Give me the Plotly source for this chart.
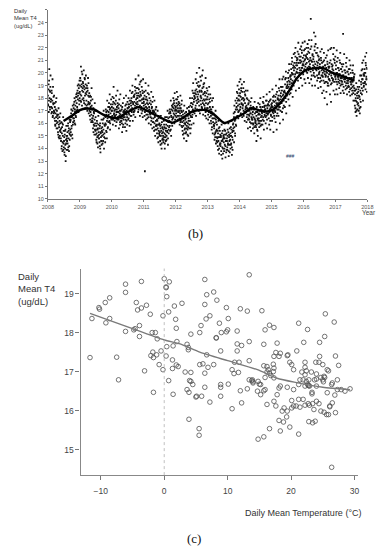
import plotly.graph_objects as go
import pandas as pd

# ---------------- Panel (b): daily mean T4, 2008-2017 ----------------
t4_daily = [
    18.2, 17.4, 19.1, 17.8, 20.3, 18.6, 17.1, 18.9, 17.7,
    17.9, 16.8, 18.4, 17.2, 19.5, 16.6, 17.6, 18.1, 17.0,
    16.9, 17.6, 16.2, 15.8, 17.1, 16.5, 18.0, 16.0, 16.7,
    15.6, 16.4, 15.1, 17.2, 15.9, 14.8, 16.2, 15.4, 16.8,
    15.3, 14.6, 16.1, 14.2, 15.7, 13.8, 15.0, 16.5, 14.4,
    14.1, 14.9, 13.5, 15.4, 14.3, 13.0, 14.7, 15.8, 13.9,
    14.6, 15.3, 13.9, 16.0, 14.8, 15.6, 14.2, 16.3, 15.1,
    15.5, 16.3, 15.0, 17.1, 15.8, 16.6, 14.8, 17.4, 16.1,
    16.7, 17.5, 16.2, 18.0, 17.1, 15.9, 17.8, 16.5, 18.3,
    17.6, 18.4, 17.1, 19.0, 18.2, 16.9, 18.8, 17.8, 19.4,
    18.5, 19.6, 17.8, 20.5, 18.2, 19.1, 17.4, 19.9, 18.8,
    19.2, 18.0, 20.2, 17.6, 18.7, 19.5, 17.2, 18.4, 19.8,
    18.3, 17.4, 19.0, 17.0, 18.6, 19.6, 17.7, 16.8, 18.1,
    17.5, 16.6, 18.2, 16.9, 17.8, 16.1, 18.8, 17.1, 16.4,
    16.4, 15.6, 17.2, 15.9, 16.8, 15.1, 17.6, 16.0, 15.4,
    15.1, 15.8, 14.5, 16.2, 14.9, 15.5, 14.1, 16.6, 15.3,
    14.8, 15.6, 14.2, 16.0, 13.7, 15.2, 14.6, 16.3, 15.4,
    15.7, 14.4, 16.3, 15.1, 17.0, 14.0, 15.9, 16.6, 14.8,
    16.0, 17.1, 15.4, 16.7, 14.8, 17.8, 16.4, 15.7, 17.3,
    16.9, 17.6, 16.1, 18.3, 15.5, 17.2, 16.5, 17.9, 16.3,
    17.3, 16.4, 18.1, 15.9, 17.7, 18.9, 16.7, 17.0, 16.2,
    16.6, 17.5, 15.8, 18.2, 16.9, 17.1, 16.3, 18.6, 17.4,
    16.5, 17.2, 15.6, 17.9, 16.8, 16.1, 18.3, 17.0, 16.4,
    16.2, 17.1, 15.3, 16.7, 17.6, 15.9, 16.5, 18.0, 16.9,
    16.8, 15.7, 17.4, 16.3, 18.2, 15.4, 17.0, 16.5, 17.7,
    17.2, 16.3, 18.0, 16.8, 17.5, 15.8, 18.6, 17.0, 16.6,
    17.8, 16.6, 18.4, 17.2, 19.0, 16.2, 17.5, 18.1, 16.9,
    18.1, 17.0, 18.9, 16.5, 19.5, 17.6, 18.4, 17.3, 18.0,
    17.7, 18.8, 16.9, 19.8, 18.2, 17.3, 19.1, 16.6, 18.5,
    18.3, 17.1, 19.4, 16.8, 17.9, 18.6, 16.5, 19.5, 17.6,
    17.4, 18.5, 16.6, 12.2, 17.9, 19.2, 16.3, 18.1, 17.0,
    17.6, 16.4, 18.4, 17.0, 19.0, 16.0, 17.3, 18.0, 16.8,
    16.7, 17.8, 15.9, 18.5, 16.4, 17.3, 15.6, 17.0, 18.1,
    16.1, 17.0, 15.4, 17.8, 16.5, 15.0, 16.8, 15.8, 17.3,
    15.5, 16.3, 14.8, 17.0, 15.9, 14.5, 16.6, 15.2, 16.0,
    15.0, 15.8, 14.3, 16.6, 15.4, 14.0, 16.1, 14.7, 15.6,
    15.3, 14.5, 16.2, 14.9, 15.7, 14.0, 16.5, 15.1, 14.6,
    15.9, 14.7, 16.5, 15.3, 17.0, 14.3, 16.1, 15.5, 16.8,
    16.2, 17.1, 15.4, 16.8, 17.8, 15.0, 16.5, 17.4, 15.8,
    17.3, 16.4, 18.0, 16.8, 17.6, 16.0, 18.4, 17.0, 16.6,
    17.1, 17.9, 16.5, 18.5, 17.4, 16.3, 18.1, 16.9, 17.7,
    16.6, 17.6, 15.9, 17.2, 18.2, 16.2, 17.0, 15.8, 17.8,
    15.7, 16.5, 15.1, 17.0, 16.2, 14.8, 17.4, 15.5, 16.0,
    16.3, 15.2, 16.9, 14.6, 15.8, 17.2, 15.5, 16.6, 15.0,
    16.2, 17.3, 15.6, 16.9, 18.0, 15.2, 16.6, 17.6, 15.9,
    17.6, 16.5, 18.6, 17.1, 19.2, 16.0, 17.9, 18.2, 16.8,
    18.4, 17.2, 19.5, 16.6, 18.7, 20.0, 17.6, 18.1, 19.0,
    17.9, 19.3, 17.0, 20.4, 18.5, 16.8, 19.7, 18.2, 17.5,
    18.6, 17.3, 19.8, 17.8, 20.2, 16.7, 18.9, 17.5, 19.2,
    17.4, 18.5, 16.6, 19.6, 17.9, 16.4, 18.8, 17.2, 18.1,
    17.5, 16.3, 18.3, 16.9, 18.9, 16.0, 17.7, 17.1, 18.0,
    16.2, 17.1, 15.5, 17.8, 16.7, 15.2, 18.0, 16.4, 15.8,
    15.8, 14.7, 16.4, 15.2, 17.0, 14.4, 16.1, 15.5, 14.9,
    14.5, 15.4, 13.9, 16.2, 14.9, 13.6, 15.7, 14.3, 15.1,
    14.2, 15.0, 13.5, 15.9, 14.6, 13.2, 15.4, 14.0, 14.8,
    14.9, 13.8, 15.5, 14.3, 16.0, 13.3, 15.1, 14.6, 13.9,
    14.8, 13.9, 15.5, 14.3, 16.0, 13.4, 15.1, 14.6, 13.7,
    15.0, 14.0, 15.7, 14.4, 16.2, 13.5, 15.3, 14.7, 15.9,
    15.6, 16.8, 14.5, 17.4, 16.2, 15.0, 17.8, 15.9, 16.5,
    17.3, 18.5, 16.6, 19.0, 17.8, 16.4, 18.2, 17.0, 19.3,
    18.2, 17.1, 19.5, 16.8, 18.6, 17.5, 19.1, 16.5, 18.0,
    17.4, 18.8, 16.6, 19.3, 17.9, 16.2, 18.3, 17.1, 18.6,
    17.2, 16.1, 18.0, 16.7, 18.6, 15.6, 17.5, 16.4, 17.8,
    16.3, 17.2, 15.7, 17.7, 16.8, 15.4, 18.0, 16.4, 16.0,
    16.7, 15.6, 17.3, 16.0, 17.1, 15.2, 17.7, 16.3, 15.8,
    16.0, 16.9, 14.6, 17.3, 15.5, 16.4, 15.0, 17.6, 16.2,
    16.8, 15.7, 17.5, 16.2, 18.0, 14.8, 17.1, 15.9, 16.6,
    17.0, 15.9, 17.7, 16.5, 18.1, 15.5, 17.3, 16.7, 17.1,
    17.1, 16.0, 17.8, 16.6, 18.3, 15.6, 17.4, 16.8, 17.5,
    16.8, 17.7, 15.9, 18.5, 17.1, 15.5, 17.9, 16.6, 17.3,
    17.4, 16.2, 18.7, 16.9, 17.8, 15.3, 18.2, 16.6, 17.2,
    17.0, 18.1, 16.1, 19.0, 17.6, 15.5, 18.5, 16.8, 17.9,
    17.9, 16.6, 18.8, 17.3, 19.5, 16.0, 18.2, 17.6, 18.9,
    17.7, 18.9, 16.9, 19.5, 18.2, 16.3, 19.7, 17.4, 18.5,
    18.5, 17.3, 19.5, 18.0, 20.1, 16.8, 18.9, 18.2, 19.3,
    18.8, 20.0, 17.9, 19.4, 20.7, 17.4, 19.1, 19.7, 18.4,
    19.5, 20.7, 18.7, 21.2, 19.9, 18.1, 20.4, 19.2, 21.5,
    20.5, 19.3, 21.6, 19.9, 22.0, 18.6, 20.8, 20.1, 21.2,
    20.3, 21.7, 19.4, 22.4, 20.8, 18.8, 21.3, 20.0, 21.9,
    21.0, 19.6, 22.1, 20.4, 21.6, 19.0, 22.4, 20.7, 20.1,
    20.6, 21.8, 19.5, 22.5, 21.1, 19.2, 21.4, 20.2, 22.0,
    21.2, 20.0, 22.3, 19.6, 21.7, 20.5, 22.6, 19.2, 21.0,
    20.4, 21.9, 24.3, 19.5, 22.6, 20.9, 19.0, 21.5, 20.2,
    21.1, 19.8, 23.2, 20.5, 22.1, 19.0, 22.9, 20.3, 21.6,
    20.2, 21.6, 19.4, 22.0, 20.8, 18.8, 21.3, 19.9, 21.1,
    20.5, 19.3, 21.7, 18.9, 21.0, 19.8, 21.9, 18.4, 20.3,
    19.7, 20.9, 18.6, 21.6, 20.1, 18.0, 20.6, 19.3, 21.2,
    20.1, 18.5, 21.4, 17.5, 20.7, 19.2, 21.8, 19.0, 20.4,
    19.5, 20.8, 18.3, 21.9, 20.0, 17.7, 22.0, 19.2, 20.5,
    20.3, 19.4, 21.5, 18.6, 22.0, 19.9, 21.0, 18.3, 21.3,
    19.5, 20.6, 18.7, 21.8, 20.0, 18.3, 21.2, 19.3, 20.4,
    19.9, 18.8, 21.0, 19.4, 21.6, 18.4, 20.3, 19.1, 20.7,
    19.3, 20.5, 18.6, 23.1, 19.8, 18.4, 21.5, 19.6, 20.2,
    19.7, 18.7, 20.8, 19.2, 21.2, 18.3, 20.1, 19.4, 18.9,
    19.0, 20.3, 18.5, 21.0, 19.6, 18.2, 20.6, 19.3, 18.8,
    19.4, 18.3, 20.2, 18.9, 20.6, 17.8, 19.6, 18.6, 19.9,
    17.4, 18.6, 16.9, 17.8, 19.2, 16.6, 18.2, 17.1, 18.9,
    17.6, 18.7, 17.0, 19.4, 18.1, 16.8, 19.8, 17.3, 18.4,
    19.1, 20.2, 18.3, 20.8, 19.5, 17.8, 21.0, 18.9, 19.8,
    20.0, 19.2, 21.3, 18.7, 20.6, 19.5, 21.6, 18.5, 20.3,
]

# second set of daily readings (days in between the first set)
t4_daily_b = [
    17.5, 18.7, 16.9, 19.4, 18.0, 17.3, 18.5, 19.8, 17.9,
    17.3, 18.6, 16.9, 17.8, 16.5, 18.9, 17.5, 16.8, 18.2,
    16.4, 17.3, 15.9, 16.8, 17.7, 16.2, 15.6, 17.0, 16.6,
    16.1, 15.3, 16.7, 14.9, 15.7, 16.5, 15.0, 16.0, 15.5,
    14.8, 15.6, 14.0, 15.2, 16.0, 14.5, 15.9, 13.9, 15.4,
    14.6, 13.7, 15.1, 14.0, 15.5, 13.4, 14.4, 15.0, 14.8,
    15.0, 14.4, 15.8, 14.1, 15.4, 13.8, 15.2, 14.7, 16.1,
    16.2, 15.3, 16.8, 15.6, 16.5, 15.1, 17.0, 15.9, 16.4,
    17.2, 16.4, 17.7, 16.0, 16.9, 17.4, 16.6, 18.1, 17.0,
    18.1, 17.3, 18.6, 17.9, 17.0, 19.1, 18.4, 17.5, 18.0,
    19.0, 18.3, 19.4, 17.7, 18.9, 20.1, 18.6, 17.9, 19.3,
    18.5, 19.0, 17.8, 18.9, 19.6, 18.2, 17.5, 19.1, 18.8,
    17.8, 18.5, 17.2, 18.8, 17.5, 18.2, 19.2, 17.6, 18.4,
    17.0, 17.6, 16.3, 17.3, 18.1, 16.7, 17.4, 16.2, 17.9,
    16.1, 16.6, 15.3, 16.9, 15.8, 16.3, 15.5, 17.0, 16.5,
    15.5, 14.7, 15.2, 16.0, 14.4, 15.6, 15.0, 15.9, 14.8,
    15.1, 14.5, 15.8, 14.0, 15.3, 14.9, 15.6, 14.3, 15.0,
    15.3, 16.0, 14.6, 15.5, 16.4, 14.9, 15.2, 15.8, 14.5,
    16.5, 15.9, 16.9, 15.3, 16.2, 17.0, 15.6, 16.6, 16.1,
    16.7, 17.3, 16.2, 17.1, 16.0, 16.8, 17.5, 16.4, 17.0,
    17.0, 16.6, 17.5, 16.3, 17.2, 18.0, 16.8, 17.6, 16.5,
    17.1, 16.4, 17.8, 16.7, 16.1, 17.3, 16.9, 17.6, 16.5,
    16.9, 16.3, 17.5, 16.6, 17.0, 15.9, 16.7, 17.4, 16.2,
    16.6, 16.0, 17.3, 16.4, 15.7, 16.9, 16.3, 17.0, 16.8,
    16.5, 17.1, 16.0, 16.9, 17.5, 16.2, 16.7, 15.9, 17.2,
    16.9, 17.5, 16.4, 17.3, 16.7, 17.8, 16.2, 17.1, 17.6,
    17.4, 18.0, 16.9, 17.7, 18.5, 17.1, 17.6, 16.7, 18.2,
    17.7, 18.3, 17.4, 18.6, 17.2, 17.9, 18.8, 17.5, 18.2,
    18.0, 17.5, 18.4, 17.1, 18.7, 17.8, 18.1, 17.4, 19.3,
    17.8, 18.2, 17.3, 18.9, 17.6, 17.0, 18.4, 17.9, 18.0,
    17.7, 17.2, 18.2, 16.9, 17.5, 18.6, 17.3, 16.7, 17.9,
    17.2, 17.8, 16.7, 17.5, 16.5, 18.3, 17.1, 17.6, 16.9,
    17.0, 16.5, 17.5, 16.2, 17.2, 16.8, 17.7, 16.1, 16.9,
    16.4, 15.7, 16.9, 16.0, 16.6, 15.5, 17.1, 16.2, 15.9,
    15.8, 15.2, 16.2, 15.6, 14.9, 16.4, 15.4, 15.9, 15.1,
    15.3, 14.6, 15.6, 15.0, 15.9, 14.4, 15.2, 15.7, 14.8,
    15.0, 15.5, 14.7, 15.9, 15.2, 14.4, 15.6, 14.9, 15.4,
    15.6, 15.0, 16.2, 15.4, 15.8, 14.8, 16.4, 15.2, 15.7,
    16.5, 15.8, 16.9, 16.1, 15.5, 16.6, 17.1, 16.0, 16.3,
    17.0, 17.5, 16.5, 17.2, 17.8, 16.7, 17.4, 16.3, 17.1,
    17.3, 16.8, 17.6, 17.0, 17.9, 16.6, 17.2, 17.5, 16.9,
    17.0, 16.4, 17.4, 16.8, 16.1, 17.2, 16.6, 17.5, 16.9,
    16.1, 15.4, 16.7, 15.8, 16.4, 15.2, 16.0, 16.8, 15.6,
    15.9, 16.4, 15.3, 16.1, 15.6, 16.7, 15.1, 16.0, 15.7,
    16.4, 17.0, 15.9, 16.7, 16.2, 17.4, 15.6, 16.5, 16.9,
    17.3, 18.0, 16.7, 17.5, 18.4, 16.9, 17.7, 17.0, 18.1,
    18.0, 18.6, 17.4, 18.3, 17.8, 19.2, 17.1, 18.5, 17.9,
    18.3, 17.7, 18.9, 17.4, 18.6, 19.0, 17.8, 18.1, 19.4,
    18.0, 18.5, 17.2, 18.8, 17.6, 18.3, 19.1, 17.9, 18.4,
    17.8, 17.2, 18.2, 16.9, 17.6, 18.4, 17.0, 17.9, 18.6,
    17.2, 16.7, 17.6, 17.0, 17.9, 16.5, 17.3, 18.3, 16.8,
    16.6, 16.0, 16.9, 15.7, 16.4, 17.3, 16.1, 16.8, 15.9,
    15.6, 15.1, 16.0, 14.9, 15.3, 16.3, 15.4, 14.6, 15.9,
    14.8, 14.2, 15.2, 14.6, 15.6, 14.0, 14.9, 15.4, 14.4,
    14.4, 14.9, 13.8, 14.6, 15.2, 14.1, 14.7, 13.6, 15.0,
    14.5, 15.1, 14.0, 14.8, 15.4, 14.2, 14.6, 13.7, 15.2,
    14.6, 14.1, 15.0, 14.4, 15.3, 13.8, 14.9, 14.3, 15.6,
    14.7, 15.2, 14.3, 15.0, 15.5, 14.1, 14.9, 13.9, 15.4,
    16.0, 15.4, 16.5, 15.7, 16.9, 15.2, 16.3, 17.1, 15.8,
    17.6, 18.0, 17.1, 18.4, 17.4, 16.9, 17.9, 18.7, 17.5,
    17.8, 18.4, 17.3, 18.1, 18.8, 17.6, 17.9, 18.5, 17.2,
    17.5, 18.0, 17.0, 17.8, 18.5, 16.9, 17.6, 18.2, 17.3,
    16.9, 17.4, 16.5, 17.2, 17.9, 16.3, 17.0, 17.6, 16.7,
    16.6, 17.0, 16.1, 16.8, 17.4, 16.0, 16.5, 17.1, 16.3,
    16.3, 16.9, 15.9, 16.5, 17.2, 15.7, 16.4, 16.8, 16.1,
    16.2, 15.7, 16.6, 15.9, 16.9, 15.4, 16.3, 16.7, 16.0,
    16.4, 17.0, 16.0, 16.7, 17.3, 15.8, 16.5, 16.2, 16.9,
    16.8, 17.3, 16.3, 17.0, 17.6, 16.2, 16.9, 17.4, 16.6,
    17.0, 16.5, 17.4, 16.8, 17.8, 16.3, 17.2, 16.7, 17.5,
    17.0, 16.4, 17.4, 16.9, 17.8, 16.2, 17.2, 16.7, 17.5,
    17.1, 17.6, 16.5, 17.3, 18.1, 16.8, 17.0, 17.7, 16.4,
    17.4, 16.9, 17.8, 17.2, 18.3, 16.6, 17.5, 17.1, 18.0,
    17.6, 18.2, 17.1, 17.8, 18.6, 17.3, 17.9, 17.0, 18.4,
    18.1, 17.6, 18.6, 17.9, 18.9, 17.2, 18.3, 17.8, 18.5,
    18.6, 18.1, 19.1, 18.4, 19.6, 17.7, 18.8, 18.3, 19.0,
    19.1, 18.5, 19.6, 18.9, 20.2, 18.3, 19.3, 18.7, 19.8,
    19.8, 20.3, 19.2, 20.0, 20.9, 19.4, 19.9, 20.6, 19.0,
    20.2, 20.8, 19.7, 20.4, 21.3, 19.5, 20.6, 20.0, 21.0,
    20.6, 21.1, 20.0, 20.8, 21.5, 19.8, 20.4, 21.0, 20.2,
    20.8, 21.3, 20.2, 20.9, 21.8, 20.4, 20.6, 21.2, 19.9,
    20.9, 21.4, 20.3, 21.0, 21.9, 20.5, 20.7, 21.3, 20.1,
    20.8, 21.5, 20.4, 21.1, 22.0, 20.2, 20.9, 21.6, 20.5,
    20.7, 21.2, 20.1, 21.0, 22.1, 19.8, 20.9, 21.4, 20.4,
    20.6, 21.3, 20.0, 20.9, 21.8, 19.7, 20.7, 22.3, 20.3,
    20.4, 20.9, 19.8, 20.6, 21.4, 19.6, 20.3, 21.0, 20.0,
    20.1, 20.7, 19.6, 20.4, 21.2, 19.4, 20.2, 20.8, 19.8,
    20.0, 20.5, 19.4, 20.2, 21.0, 19.2, 19.9, 20.6, 19.7,
    19.8, 20.4, 19.3, 20.0, 20.9, 19.0, 19.7, 20.5, 19.5,
    19.9, 20.5, 19.4, 20.1, 21.0, 19.1, 19.8, 20.7, 19.6,
    20.0, 20.6, 19.5, 20.2, 21.1, 19.3, 19.9, 20.8, 19.7,
    19.8, 20.3, 19.3, 20.0, 20.9, 19.1, 19.7, 20.4, 19.5,
    19.7, 20.2, 19.2, 19.9, 20.8, 19.0, 19.6, 20.3, 19.4,
    19.6, 20.1, 19.1, 19.8, 20.7, 18.9, 19.5, 20.2, 19.3,
    19.5, 20.0, 19.0, 19.7, 20.5, 18.8, 19.4, 20.1, 19.2,
    19.4, 19.9, 18.9, 19.6, 20.3, 18.7, 19.3, 20.0, 19.1,
    19.1, 19.6, 18.6, 19.3, 20.0, 18.4, 19.0, 19.7, 18.8,
    17.8, 18.3, 17.2, 18.0, 18.7, 17.0, 17.7, 18.4, 17.5,
    18.0, 18.5, 17.4, 18.2, 18.9, 17.2, 17.9, 18.6, 17.7,
    19.3, 19.8, 18.8, 19.5, 20.3, 18.6, 19.2, 19.9, 19.0,
    19.8, 20.3, 19.3, 20.0, 20.8, 19.1, 19.7, 20.4, 19.5,
]

smooth_dates = [
    "2008-06-28", "2008-10-01", "2009-01-01", "2009-03-15", "2009-06-13",
    "2009-09-24", "2010-01-15", "2010-03-26", "2010-07-02", "2010-11-03",
    "2011-02-06", "2011-07-02", "2011-11-24", "2012-03-14", "2012-07-20",
    "2012-12-17", "2013-03-15", "2013-07-09", "2013-09-13", "2014-01-01",
    "2014-03-05", "2014-05-10", "2014-08-08", "2014-10-12", "2014-12-25",
    "2015-04-13", "2015-07-31", "2015-10-20", "2016-02-03", "2016-03-28",
    "2016-08-08", "2016-11-25", "2017-03-15", "2017-08-08",
]
smooth_t4 = [
    16.18, 16.6, 17.05, 17.18, 17.1,
    16.7, 16.45, 16.45, 16.9, 17.29,
    17.0, 16.5, 16.06, 16.4, 16.97,
    17.05, 16.7, 16.03, 16.18, 16.6,
    16.85, 17.2, 17.05, 16.95, 17.0,
    17.63, 18.69, 19.6, 20.26, 20.34,
    20.4, 20.02, 19.75, 19.4,
]

# ---------------- Panel (c): T4 vs daily mean temperature ----------------
temp_c = [
    -11.7, -11.4, -10.3, -10.2, -9.3, -8.6, -9.2, -8.6, -7.5, -7.2,
    -6.1, -6.1, -6.1, -4.8, -4.6, -3.6, -4.4, -4.2, -3.6, -2.8,
    -3.9, -3.9, -2.2, -3.1, -1.9, -1.4, -2.1, -1.8, -1.7, -1.2,
    -1.1, -0.8, -0.5, -0.2, -0.2, -1.7, 0.0, 0.3, 0.3, 0.4,
    0.8, 0.7, 0.3, 0.4, 0.7, 1.3, 1.3, 1.4, 1.6, 1.8,
    1.9, 2.0, 1.4, 1.9, 2.2, 2.8, 3.3, 3.6, 3.8, 3.8,
    4.2, 4.2, 4.5, 4.2, 4.0, 3.6, 3.9, 3.9, 5.0, 5.5,
    5.5, 5.1, 5.9, 6.4, 7.2, 6.4, 13.4, 6.7, 7.8, 8.3,
    6.4, 6.6, 7.2, 5.8, 5.6, 8.2, 8.2, 8.7, 9.0, 9.8,
    10.0, 10.1, 9.8, 12.0, 13.1, 15.4, 11.5, 11.5, 12.2, 13.4,
    11.5, 8.9, 6.7, 5.6, 6.1, 6.9, 7.8, 6.4, 11.1, 11.8,
    10.7, 11.0, 11.7, 13.4, 13.4, 13.9, 14.0, 15.0, 15.7, 15.9,
    16.6, 17.3, 17.8, 15.7, 16.2, 16.4, 16.2, 16.6, 17.2, 17.3,
    17.2, 15.9, 16.8, 17.3, 17.6, 18.3, 18.1, 17.3, 19.4, 19.5,
    19.8, 20.1, 20.4, 20.9, 21.2, 22.6, 25.4, 26.8, 25.3, 24.5,
    22.0, 24.5, 24.4, 23.9, 25.0, 27.0, 27.5, 22.2, 22.2, 21.7,
    22.4, 22.2, 23.2, 24.0, 24.0, 24.7, 25.3, 25.1, 25.9, 27.3,
    26.4, 22.8, 22.6, 21.4, 22.7, 22.8, 18.3, 19.4, 8.9, 8.9,
    8.9, 10.1, 10.7, 12.0, 12.2, 13.1, 13.8, 14.0, 14.8, 15.2,
    15.2, 14.7, 15.7, 15.9, 14.8, 15.7, 16.2, 16.6, 17.3, 17.6,
    17.8, 18.1, 18.6, 18.9, 19.4, 19.3, 18.1, 18.8, 18.3, 19.8,
    20.1, 20.4, 20.8, 21.2, 20.1, 21.2, 21.9, 21.4, 22.2, 22.7,
    22.9, 23.4, 23.6, 22.8, 23.4, 23.8, 23.3, 23.3, 24.0, 24.4,
    24.7, 25.2, 25.6, 25.9, 25.7, 26.1, 26.1, 26.5, 26.9, 27.0,
    26.4, 27.3, 27.9, 28.5, 29.3, 24.0, 23.7, 25.0, 25.2, 25.7,
    26.5, 20.4, 21.2, 21.9, 22.4, 22.2, 22.9,
]
t4_c = [
    17.36, 18.36, 18.64, 18.60, 18.77, 18.89, 18.25, 18.36, 17.37, 16.79,
    19.24, 19.03, 18.03, 18.07, 18.10, 19.31, 18.77, 18.58, 18.63, 18.70,
    18.18, 17.90, 18.47, 17.02, 18.00, 18.00, 17.41, 17.50, 17.36, 17.43,
    17.84, 17.18, 17.53, 18.43, 17.05, 16.47, 19.38, 19.17, 19.15, 18.92,
    19.30, 18.53, 17.40, 17.64, 16.77, 17.30, 17.08, 16.42, 18.68, 18.34,
    18.11, 17.77, 17.66, 17.17, 17.13, 18.75, 16.99, 17.70, 17.62, 17.56,
    17.96, 16.98, 16.67, 16.75, 16.77, 16.54, 16.47, 15.78, 16.35, 15.54,
    15.37, 16.37, 16.37, 16.60, 16.22, 19.36, 19.48, 18.97, 19.04, 18.83,
    18.72, 18.35, 18.43, 18.18, 18.00, 17.87, 17.86, 18.24, 18.00, 18.02,
    18.07, 18.36, 18.64, 18.61, 18.55, 18.56, 18.04, 17.71, 17.67, 17.77,
    17.53, 17.53, 17.43, 17.18, 17.20, 17.11, 17.18, 16.96, 17.24, 17.24,
    17.05, 16.95, 16.98, 17.28, 16.79, 16.79, 16.74, 16.68, 17.70, 18.07,
    18.19, 18.13, 17.73, 17.15, 17.13, 17.05, 16.99, 16.96, 17.00, 17.09,
    17.19, 16.85, 16.90, 16.84, 17.49, 17.47, 17.39, 17.39, 17.41, 17.43,
    17.24, 17.18, 17.05, 17.53, 18.24, 18.08, 18.48, 18.27, 17.90, 17.75,
    17.75, 17.39, 17.24, 17.24, 17.18, 17.40, 17.16, 17.24, 17.11, 16.99,
    17.02, 16.92, 16.99, 16.94, 16.81, 16.85, 16.85, 16.74, 17.02, 16.79,
    16.67, 16.79, 16.68, 16.79, 16.65, 16.64, 16.63, 16.60, 16.67, 16.60,
    16.37, 16.68, 16.05, 16.51, 16.20, 16.56, 16.77, 16.71, 16.75, 16.67,
    16.41, 16.50, 16.51, 16.54, 15.27, 15.33, 16.16, 15.54, 16.24, 16.12,
    16.41, 16.58, 15.99, 16.07, 15.99, 15.84, 15.75, 15.71, 15.48, 15.58,
    16.07, 16.12, 16.12, 15.40, 16.26, 16.29, 16.29, 16.09, 16.14, 16.18,
    16.14, 16.18, 16.03, 15.72, 15.69, 15.73, 16.47, 16.43, 16.24, 16.18,
    15.99, 15.96, 15.90, 15.90, 16.46, 16.12, 16.10, 16.20, 16.40, 15.95,
    14.55, 16.54, 16.54, 16.50, 16.56, 16.63, 16.79, 16.79, 16.88, 17.05,
    16.71, 16.54, 16.67, 16.79, 16.75, 16.63, 16.63,
]

fit_temp = [-11.7, -6.0, 0.0, 2.5, 5.6, 10.0, 14.7, 17.8, 20.5, 25.0, 29.3]
fit_t4 = [18.49, 18.16, 17.81, 17.71, 17.5, 17.28, 17.05, 16.83, 16.73, 16.6, 16.54]

# The page body has an 8 px default margin, so the figure is drawn 8 px in
# from the top-left corner of the window; positions below are window pixels.
OFF = 8
W, H = 384 - OFF, 550 - OFF
def px(x):
    return (x - OFF) / W
def py(y):
    return 1 - (y - OFF) / H

dates_a = pd.date_range("2008-01-01", "2017-12-31", periods=len(t4_daily))
dates_b = pd.date_range("2008-01-03", "2017-12-29", periods=len(t4_daily_b))
daily_dates = list(dates_a) + list(dates_b)
daily_values = t4_daily + t4_daily_b

fig = go.Figure()

fig.add_trace(go.Scatter(
    x=daily_dates, y=daily_values, mode="markers",
    marker=dict(symbol="square", size=1.8, color="#111111", line=dict(width=0)),
    xaxis="x", yaxis="y", hoverinfo="skip"))
fig.add_trace(go.Scatter(
    x=pd.to_datetime(smooth_dates), y=smooth_t4, mode="lines",
    line=dict(color="#000000", width=2.4, shape="spline", smoothing=0.8),
    xaxis="x", yaxis="y"))

fig.add_trace(go.Scatter(
    x=temp_c, y=t4_c, mode="markers",
    marker=dict(symbol="circle-open", size=4.6, color="#505050",
                line=dict(width=0.8, color="#505050")),
    xaxis="x2", yaxis="y2"))
fig.add_trace(go.Scatter(
    x=fit_temp, y=fit_t4, mode="lines",
    line=dict(color="#7a7a7a", width=1.4, shape="spline", smoothing=0.6),
    xaxis="x2", yaxis="y2"))

axis_common = dict(showgrid=False, zeroline=False, showline=True, ticks="outside", mirror=False)

fig.update_layout(
    width=W, height=H,
    margin=dict(l=0, r=0, t=0, b=0),
    paper_bgcolor="white", plot_bgcolor="white",
    showlegend=False,
    font=dict(family="Liberation Sans, Arial, sans-serif", color="#333333"),
    xaxis=dict(**axis_common, domain=[px(43), px(373)], anchor="y", type="date",
               range=["2008-01-01", "2018-01-01"], tick0="2008-01-01", dtick="M12",
               tickformat="%Y", ticklen=2, tickcolor="#777777", linecolor="#777777",
               linewidth=1, tickfont=dict(size=5.5, color="#555555")),
    yaxis=dict(**axis_common, domain=[py(200), py(10)], anchor="x",
               range=[10, 25], dtick=1, tick0=10, ticklen=2, tickcolor="#777777",
               linecolor="#777777", linewidth=1, tickfont=dict(size=5.5, color="#555555")),
    xaxis2=dict(**axis_common, domain=[px(76.7), px(363)], anchor="y2",
                range=[-13.2, 30.5], tickvals=[-10, 0, 10, 20, 30], ticklen=4,
                tickcolor="#777777", linecolor="#888888", linewidth=1.2,
                ticklabelstandoff=4, tickfont=dict(size=8.5, color="#444444")),
    yaxis2=dict(**axis_common, domain=[py(477.7), py(270)], anchor="x2",
                range=[14.35, 19.64], tickvals=[15, 16, 17, 18, 19], ticklen=4,
                tickcolor="#777777", linecolor="#888888", linewidth=1.2,
                tickfont=dict(size=8.5, color="#444444")),
)

# dotted reference line at 0 degC
fig.add_shape(type="line", xref="x2", yref="y2 domain", x0=0, x1=0, y0=0, y1=1,
              line=dict(color="#b0b0b0", width=0.8, dash="dot"))

small_title = dict(size=5.8, color="#333333")
ann = [
    dict(text="Daily", x=px(7), y=py(11.5), xanchor="left", yanchor="middle", font=small_title),
    dict(text="Mean T4", x=px(7), y=py(18.5), xanchor="left", yanchor="middle", font=small_title),
    dict(text="(ug/dL)", x=px(7), y=py(26), xanchor="left", yanchor="middle", font=small_title),
    dict(text="Year", x=px(375), y=py(214), xanchor="center", yanchor="middle",
         font=dict(size=6.5, color="#444444")),
    dict(text="###", x=px(294), y=py(157), xanchor="center", yanchor="middle",
         font=dict(size=5, color="#1f3864")),
    dict(text="(b)", x=px(195), y=py(235), xanchor="center", yanchor="middle",
         font=dict(size=13, family="Liberation Serif, DejaVu Serif, serif", color="#111111")),
    dict(text="Daily<br>Mean T4<br>(ug/dL)", x=px(11), y=py(271), xanchor="left", yanchor="top",
         align="left", font=dict(size=9.5, color="#333333")),
    dict(text="Daily Mean Temperature (°C)", x=px(367), y=py(516), xanchor="right", yanchor="middle",
         font=dict(size=9, color="#333333")),
    dict(text="(c)", x=px(194), y=py(541), xanchor="center", yanchor="middle",
         font=dict(size=13, family="Liberation Serif, DejaVu Serif, serif", color="#111111")),
]
for a in ann:
    fig.add_annotation(xref="paper", yref="paper", showarrow=False, borderpad=0, **a)

fig.write_html("out.html")
